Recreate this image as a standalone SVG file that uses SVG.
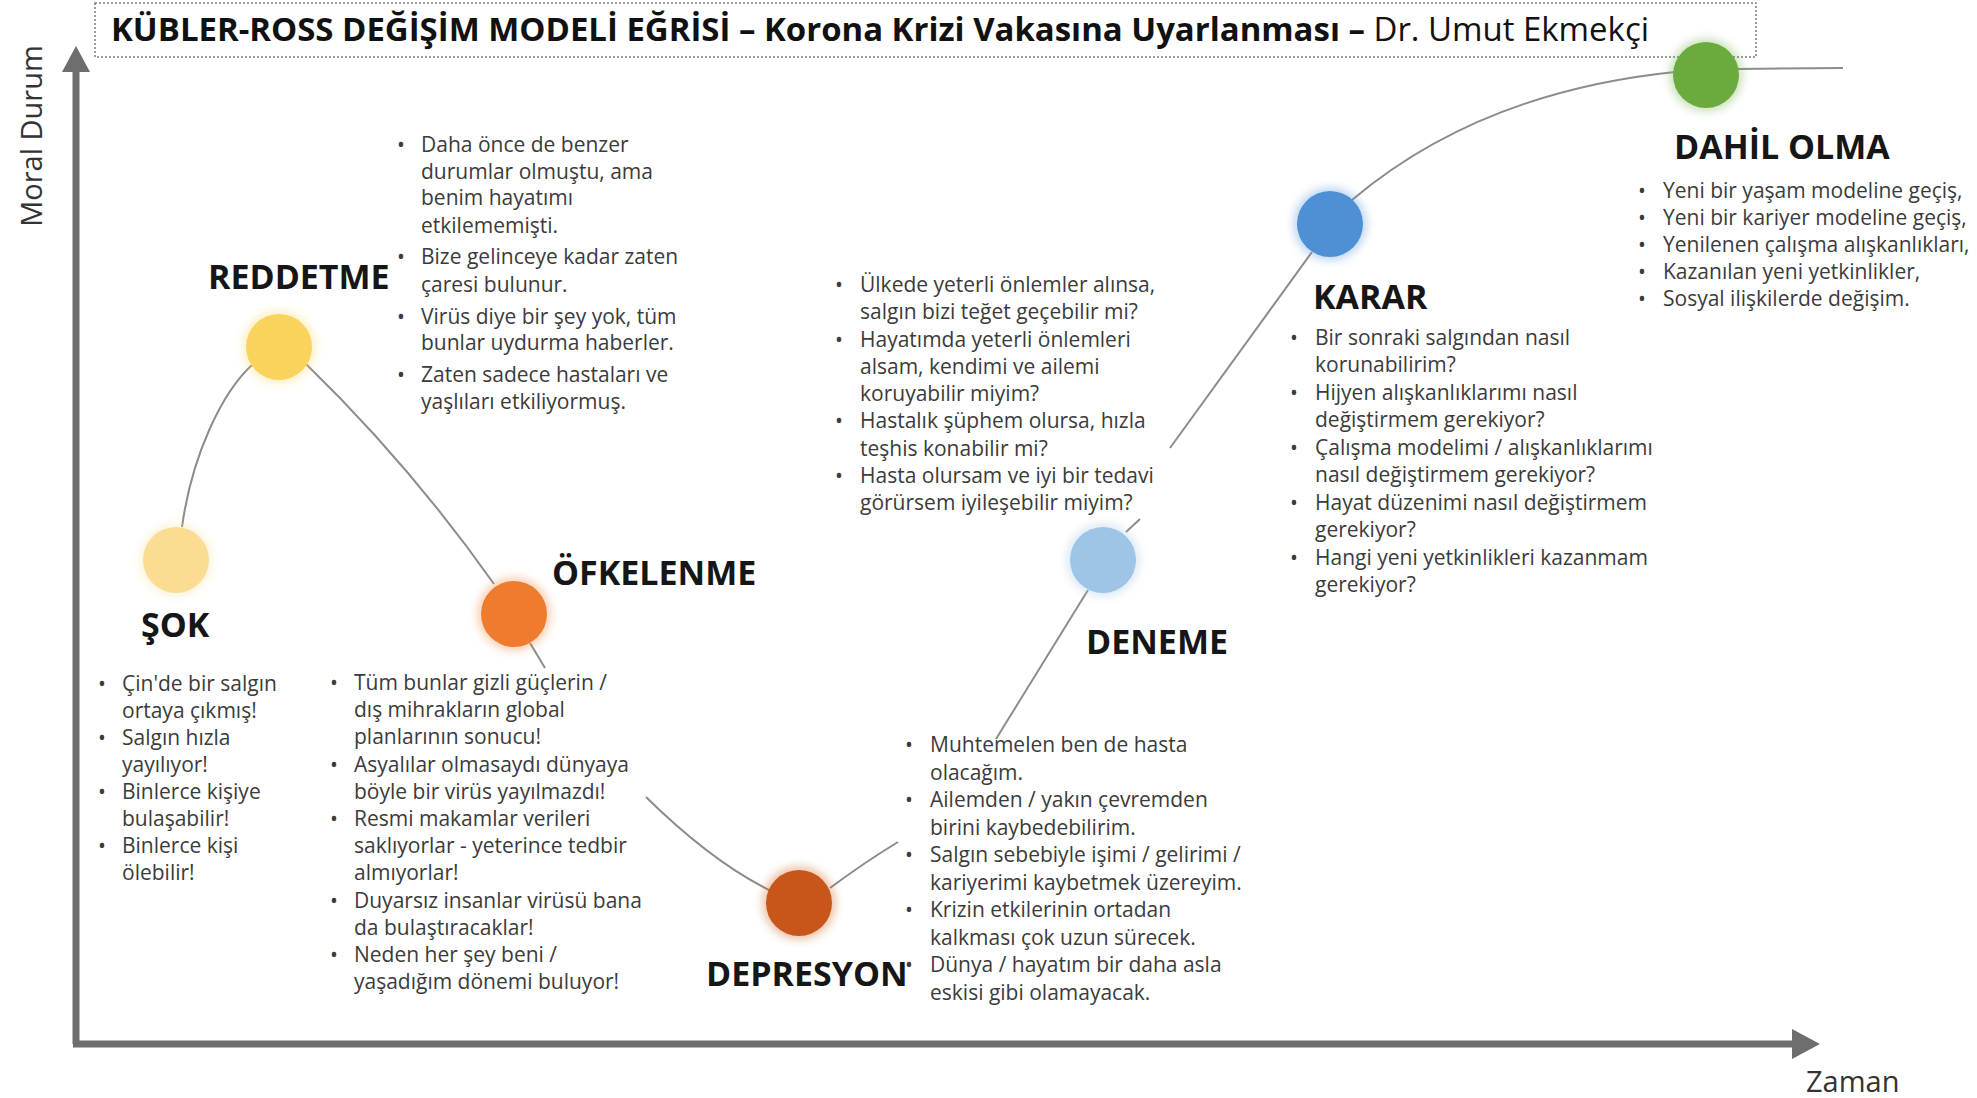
<svg xmlns="http://www.w3.org/2000/svg" width="1977" height="1098" viewBox="0 0 1977 1098">
<style>
.ttl{font-family:"Open Sans","Liberation Sans",sans-serif;font-size:32px;fill:#111}
.lbl{font-family:"Open Sans","Liberation Sans",sans-serif;font-size:34px;font-weight:700;fill:#161616}
.tx{font-family:"Open Sans","Liberation Sans",sans-serif;font-size:21px;fill:#3b3b3b}
.ax{font-family:"Open Sans","Liberation Sans",sans-serif;font-size:29px;fill:#333}
.con{fill:none;stroke:#8c8c8c;stroke-width:2}
.axis{fill:none;stroke:#6e6e6e;stroke-width:7}
.halo{opacity:0.35;filter:url(#glow)}
</style>
<defs>
<filter id="glow" x="-50%" y="-50%" width="200%" height="200%"><feGaussianBlur stdDeviation="4"/></filter>
</defs>
<rect width="1977" height="1098" fill="#fff"/>

<g id="title">
<rect x="95" y="3" width="1661" height="54" fill="#fff" stroke="#7a7a7a" stroke-width="1.5" stroke-dasharray="2 2"/>
<text class="ttl" x="111" y="41" textLength="1538" lengthAdjust="spacingAndGlyphs"><tspan font-weight="700">KÜBLER-ROSS DEĞİŞİM MODELİ EĞRİSİ – Korona Krizi Vakasına Uyarlanması –</tspan> Dr. Umut Ekmekçi</text>
</g>

<g id="axes">
<line class="axis" x1="76" y1="1044" x2="76" y2="68"/>
<polygon points="62,72 90,72 76,46" fill="#6e6e6e"/>
<line class="axis" x1="73" y1="1044" x2="1796" y2="1044"/>
<polygon points="1792,1029 1792,1059 1820,1044" fill="#6e6e6e"/>
<text class="ax" transform="translate(42,136) rotate(-90)" text-anchor="middle">Moral Durum</text>
<text class="ax" x="1806" y="1092">Zaman</text>
</g>

<g id="connectors">
<path class="con" d="M182,527 C192,455 222,392 253,364"/>
<path class="con" d="M306,364 Q410,465 494,584"/>
<path class="con" d="M530,643 L545,668"/>
<path class="con" d="M646,797 Q712,862 771,891"/>
<path class="con" d="M830,888 Q865,862 898,842"/>
<path class="con" d="M996,739 L1088,590"/>
<path class="con" d="M1126,532 L1140,519"/>
<path class="con" d="M1170,448 L1312,252"/>
<path class="con" d="M1352,200 Q1480,92 1675,72"/>
<path class="con" d="M1738,69 L1843,68"/>
</g>

<g id="sok">
<circle class="halo" cx="176" cy="560" r="36" fill="#fad98c"/>
<circle cx="176" cy="560" r="33" fill="#fbdc93"/>
<text class="lbl" x="141" y="637">ŞOK</text>
<text class="tx">
<tspan x="98" y="691">•</tspan><tspan x="122" y="691">Çin'de bir salgın</tspan>
<tspan x="122" y="718">ortaya çıkmış!</tspan>
<tspan x="98" y="745">•</tspan><tspan x="122" y="745">Salgın hızla</tspan>
<tspan x="122" y="772">yayılıyor!</tspan>
<tspan x="98" y="799">•</tspan><tspan x="122" y="799">Binlerce kişiye</tspan>
<tspan x="122" y="826">bulaşabilir!</tspan>
<tspan x="98" y="853">•</tspan><tspan x="122" y="853">Binlerce kişi</tspan>
<tspan x="122" y="880">ölebilir!</tspan>
</text>
</g>

<g id="reddetme">
<circle class="halo" cx="279" cy="347" r="37" fill="#f9d45e"/>
<circle cx="279" cy="347" r="33" fill="#f9d35b"/>
<text class="lbl" x="208" y="289">REDDETME</text>
<text class="tx">
<tspan x="397" y="152">•</tspan><tspan x="421" y="152">Daha önce de benzer</tspan>
<tspan x="421" y="179">durumlar olmuştu, ama</tspan>
<tspan x="421" y="205">benim hayatımı</tspan>
<tspan x="421" y="233">etkilememişti.</tspan>
<tspan x="397" y="264">•</tspan><tspan x="421" y="264">Bize gelinceye kadar zaten</tspan>
<tspan x="421" y="292">çaresi bulunur.</tspan>
<tspan x="397" y="324">•</tspan><tspan x="421" y="324">Virüs diye bir şey yok, tüm</tspan>
<tspan x="421" y="350">bunlar uydurma haberler.</tspan>
<tspan x="397" y="382">•</tspan><tspan x="421" y="382">Zaten sadece hastaları ve</tspan>
<tspan x="421" y="409">yaşlıları etkiliyormuş.</tspan>
</text>
</g>

<g id="ofkelenme">
<circle class="halo" cx="514" cy="614" r="37" fill="#ee7d31"/>
<circle cx="514" cy="614" r="33" fill="#ee7b2e"/>
<text class="lbl" x="552" y="585">ÖFKELENME</text>
<text class="tx">
<tspan x="330" y="690">•</tspan><tspan x="354" y="690">Tüm bunlar gizli güçlerin /</tspan>
<tspan x="354" y="717">dış mihrakların global</tspan>
<tspan x="354" y="744">planlarının sonucu!</tspan>
<tspan x="330" y="772">•</tspan><tspan x="354" y="772">Asyalılar olmasaydı dünyaya</tspan>
<tspan x="354" y="799">böyle bir virüs yayılmazdı!</tspan>
<tspan x="330" y="826">•</tspan><tspan x="354" y="826">Resmi makamlar verileri</tspan>
<tspan x="354" y="853">saklıyorlar - yeterince tedbir</tspan>
<tspan x="354" y="880">almıyorlar!</tspan>
<tspan x="330" y="908">•</tspan><tspan x="354" y="908">Duyarsız insanlar virüsü bana</tspan>
<tspan x="354" y="935">da bulaştıracaklar!</tspan>
<tspan x="330" y="962">•</tspan><tspan x="354" y="962">Neden her şey beni /</tspan>
<tspan x="354" y="989">yaşadığım dönemi buluyor!</tspan>
</text>
</g>

<g id="depresyon">
<circle class="halo" cx="799" cy="903" r="37" fill="#c55a11"/>
<circle cx="799" cy="903" r="33" fill="#c8561a"/>
<text class="lbl" x="706" y="986">DEPRESYON</text>
<text class="tx">
<tspan x="905" y="752">•</tspan><tspan x="930" y="752">Muhtemelen ben de hasta</tspan>
<tspan x="930" y="780">olacağım.</tspan>
<tspan x="905" y="807">•</tspan><tspan x="930" y="807">Ailemden / yakın çevremden</tspan>
<tspan x="930" y="835">birini kaybedebilirim.</tspan>
<tspan x="905" y="862">•</tspan><tspan x="930" y="862">Salgın sebebiyle işimi / gelirimi /</tspan>
<tspan x="930" y="890">kariyerimi kaybetmek üzereyim.</tspan>
<tspan x="905" y="917">•</tspan><tspan x="930" y="917">Krizin etkilerinin ortadan</tspan>
<tspan x="930" y="945">kalkması çok uzun sürecek.</tspan>
<tspan x="905" y="972">•</tspan><tspan x="930" y="972">Dünya / hayatım bir daha asla</tspan>
<tspan x="930" y="1000">eskisi gibi olamayacak.</tspan>
</text>
</g>

<g id="deneme">
<circle class="halo" cx="1103" cy="560" r="37" fill="#9dc3e6"/>
<circle cx="1103" cy="560" r="33" fill="#9ec4e8"/>
<text class="lbl" x="1086" y="654">DENEME</text>
<text class="tx">
<tspan x="835" y="292">•</tspan><tspan x="860" y="292">Ülkede yeterli önlemler alınsa,</tspan>
<tspan x="860" y="319">salgın bizi teğet geçebilir mi?</tspan>
<tspan x="835" y="347">•</tspan><tspan x="860" y="347">Hayatımda yeterli önlemleri</tspan>
<tspan x="860" y="374">alsam, kendimi ve ailemi</tspan>
<tspan x="860" y="401">koruyabilir miyim?</tspan>
<tspan x="835" y="428">•</tspan><tspan x="860" y="428">Hastalık şüphem olursa, hızla</tspan>
<tspan x="860" y="456">teşhis konabilir mi?</tspan>
<tspan x="835" y="483">•</tspan><tspan x="860" y="483">Hasta olursam ve iyi bir tedavi</tspan>
<tspan x="860" y="510">görürsem iyileşebilir miyim?</tspan>
</text>
</g>

<g id="karar">
<circle class="halo" cx="1330" cy="224" r="37" fill="#4f91d6"/>
<circle cx="1330" cy="224" r="33" fill="#4e8fd5"/>
<text class="lbl" x="1313" y="309">KARAR</text>
<text class="tx">
<tspan x="1290" y="345">•</tspan><tspan x="1315" y="345">Bir sonraki salgından nasıl</tspan>
<tspan x="1315" y="372">korunabilirim?</tspan>
<tspan x="1290" y="400">•</tspan><tspan x="1315" y="400">Hijyen alışkanlıklarımı nasıl</tspan>
<tspan x="1315" y="427">değiştirmem gerekiyor?</tspan>
<tspan x="1290" y="455">•</tspan><tspan x="1315" y="455">Çalışma modelimi / alışkanlıklarımı</tspan>
<tspan x="1315" y="482">nasıl değiştirmem gerekiyor?</tspan>
<tspan x="1290" y="510">•</tspan><tspan x="1315" y="510">Hayat düzenimi nasıl değiştirmem</tspan>
<tspan x="1315" y="537">gerekiyor?</tspan>
<tspan x="1290" y="565">•</tspan><tspan x="1315" y="565">Hangi yeni yetkinlikleri kazanmam</tspan>
<tspan x="1315" y="592">gerekiyor?</tspan>
</text>
</g>

<g id="dahil-olma">
<circle class="halo" cx="1706" cy="75" r="37" fill="#70ad47"/>
<circle cx="1706" cy="75" r="33" fill="#6aab3e"/>
<text class="lbl" x="1674" y="159">DAHİL OLMA</text>
<text class="tx">
<tspan x="1638" y="198">•</tspan><tspan x="1663" y="198">Yeni bir yaşam modeline geçiş,</tspan>
<tspan x="1638" y="225">•</tspan><tspan x="1663" y="225">Yeni bir kariyer modeline geçiş,</tspan>
<tspan x="1638" y="252">•</tspan><tspan x="1663" y="252">Yenilenen çalışma alışkanlıkları,</tspan>
<tspan x="1638" y="279">•</tspan><tspan x="1663" y="279">Kazanılan yeni yetkinlikler,</tspan>
<tspan x="1638" y="306">•</tspan><tspan x="1663" y="306">Sosyal ilişkilerde değişim.</tspan>
</text>
</g>
</svg>
